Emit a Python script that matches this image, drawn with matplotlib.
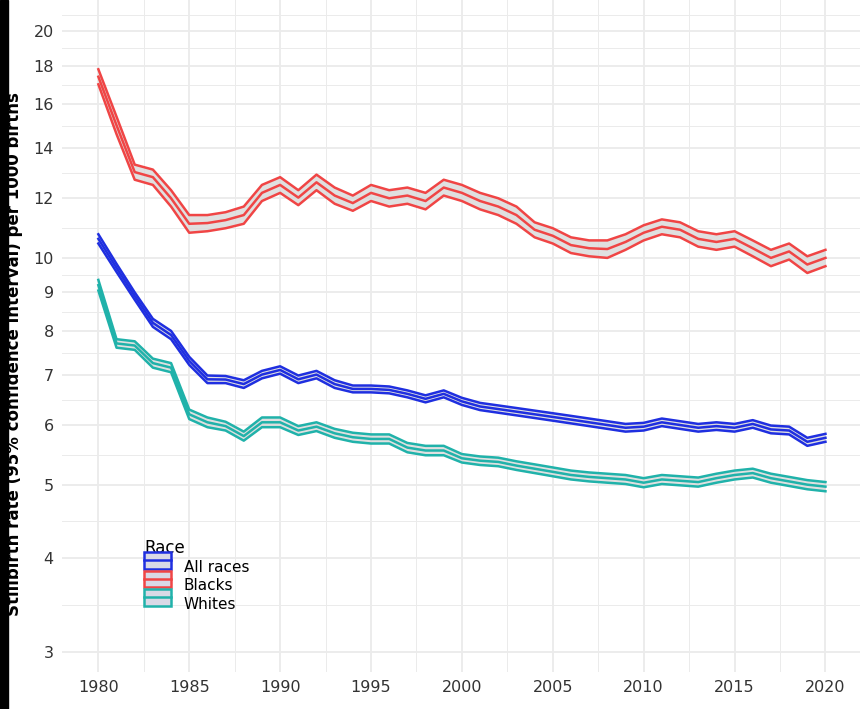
import matplotlib
matplotlib.use("Agg")
import matplotlib.pyplot as plt
import numpy as np
from matplotlib.legend_handler import HandlerBase
from matplotlib.patches import Rectangle
from matplotlib.lines import Line2D
from matplotlib.ticker import NullFormatter

years = list(range(1980, 2021))

blacks_lo = [17.0, 14.6, 12.7, 12.5, 11.7, 10.8, 10.85, 10.95, 11.1, 11.9, 12.2, 11.75, 12.3, 11.8, 11.55,
             11.9, 11.7, 11.8, 11.6, 12.1, 11.9, 11.6, 11.4, 11.1, 10.65, 10.45, 10.15, 10.05, 10.0, 10.25,
             10.55, 10.75, 10.65, 10.35, 10.25, 10.35, 10.05, 9.75, 9.95, 9.55, 9.75]
blacks_hi = [17.8, 15.4, 13.3, 13.1, 12.3, 11.4, 11.4, 11.5, 11.7, 12.5, 12.8, 12.3, 12.9, 12.4, 12.1,
             12.5, 12.3, 12.4, 12.2, 12.7, 12.5, 12.2, 12.0, 11.7, 11.15, 10.95, 10.65, 10.55, 10.55, 10.75,
             11.05, 11.25, 11.15, 10.85, 10.75, 10.85, 10.55, 10.25, 10.45, 10.05, 10.25]
all_lo = [10.45, 9.58, 8.8, 8.1, 7.8, 7.21, 6.82, 6.82, 6.72, 6.92, 7.02, 6.82, 6.92, 6.72, 6.63,
          6.63, 6.61, 6.53, 6.43, 6.53, 6.38, 6.28, 6.23, 6.18, 6.13, 6.08, 6.03, 5.98, 5.93, 5.88,
          5.9, 5.98, 5.93, 5.88, 5.91, 5.88, 5.95, 5.85, 5.83, 5.63, 5.7]
all_hi = [10.75, 9.82, 9.0, 8.3, 8.0, 7.39, 6.98, 6.97, 6.88, 7.08, 7.18, 6.98, 7.08, 6.88, 6.77,
          6.77, 6.75, 6.67, 6.57, 6.67, 6.52, 6.42, 6.37, 6.32, 6.27, 6.22, 6.17, 6.12, 6.07, 6.02,
          6.04, 6.12, 6.07, 6.02, 6.05, 6.02, 6.09, 5.99, 5.97, 5.77, 5.84]
whites_lo = [9.05, 7.6, 7.55, 7.15, 7.05, 6.11, 5.96, 5.9, 5.72, 5.96, 5.96, 5.82, 5.89, 5.77, 5.7,
             5.67, 5.67, 5.52, 5.47, 5.47, 5.35, 5.31, 5.29, 5.23, 5.18, 5.13, 5.08, 5.05, 5.03, 5.01,
             4.96, 5.01, 4.99, 4.97, 5.03, 5.08, 5.11, 5.03, 4.98, 4.93, 4.9]
whites_hi = [9.35, 7.8, 7.75, 7.35, 7.25, 6.29, 6.14, 6.06, 5.88, 6.14, 6.14, 5.98, 6.05, 5.93, 5.86,
             5.83, 5.83, 5.68, 5.63, 5.63, 5.49, 5.45, 5.43, 5.37, 5.32, 5.27, 5.22, 5.19, 5.17, 5.15,
             5.1, 5.15, 5.13, 5.11, 5.17, 5.22, 5.25, 5.17, 5.12, 5.07, 5.04]

series = [
    ("All races", all_lo, all_hi, "#1f2fe0"),
    ("Blacks", blacks_lo, blacks_hi, "#f04545"),
    ("Whites", whites_lo, whites_hi, "#20b2aa"),
]

y_ticks = [3, 4, 5, 6, 7, 8, 9, 10, 12, 14, 16, 18, 20]
x_ticks = [1980, 1985, 1990, 1995, 2000, 2005, 2010, 2015, 2020]


class BandHandler(HandlerBase):
    def __init__(self, color):
        super().__init__()
        self.color = color

    def create_artists(self, legend, orig, xd, yd, w, h, fs, trans):
        r = Rectangle((xd, yd), w, h, facecolor="#d9d9e6", edgecolor=self.color, lw=1.8, transform=trans)
        m = Line2D([xd, xd + w], [yd + h / 2, yd + h / 2], color=self.color, lw=1.8, transform=trans)
        return [r, m]


fig = plt.figure(figsize=(8.6, 7.09), dpi=100)
ax = fig.add_axes([62 / 860, 37 / 709, 798 / 860, 672 / 709])
fig.patches.append(Rectangle((0, 0), 8 / 860, 1, transform=fig.transFigure, color="black"))

ax.set_yscale("log")

handles = []
for name, lo, hi, col in series:
    lo = np.array(lo)
    hi = np.array(hi)
    mid = (lo + hi) / 2
    ax.fill_between(years, lo, hi, color="#d9d9d9", alpha=0.8, lw=0, zorder=2)
    for arr in (lo, mid, hi):
        ax.plot(years, arr, color=col, lw=1.8, zorder=3)
    handles.append(Rectangle((0, 0), 1, 1, label=name))

ax.set_yticks(y_ticks)
ax.set_yticklabels([str(t) for t in y_ticks])
ax.set_yticks([np.sqrt(a * b) for a, b in zip(y_ticks[:-1], y_ticks[1:])] + [21], minor=True)
ax.yaxis.set_minor_formatter(NullFormatter())
ax.set_xticks(x_ticks)
ax.set_xticks([t + 2.5 for t in x_ticks[:-1]] + [1977.5], minor=True)
ax.set_ylim(2.82, 22)
ax.set_xlim(1978.0, 2021.9)
ax.grid(True, which="major", color="#ebebeb", lw=1.3, zorder=0)
ax.grid(True, which="minor", color="#ebebeb", lw=0.7, zorder=0)
ax.set_axisbelow(True)
for s in ax.spines.values():
    s.set_visible(False)
ax.tick_params(which="both", length=0, labelsize=11.5, labelcolor="#333333", pad=6)
fig.text(14 / 860, 0.5, "Stillbirth rate (95% confidence interval) per 1000 births",
         rotation=90, ha="center", va="center", fontsize=12, fontweight="bold")

hmap = {h: BandHandler(c) for h, (_, _, _, c) in zip(handles, series)}
leg = ax.legend(handles=handles, title="Race", handler_map=hmap, loc="lower left",
                bbox_to_anchor=(0.095, 0.08), frameon=False, fontsize=11,
                title_fontsize=12, handlelength=1.8, handleheight=1.3, labelspacing=0.12,
                borderaxespad=0, handletextpad=0.8)
leg._legend_box.align = "left"

fig.savefig("out.png", dpi=100)
